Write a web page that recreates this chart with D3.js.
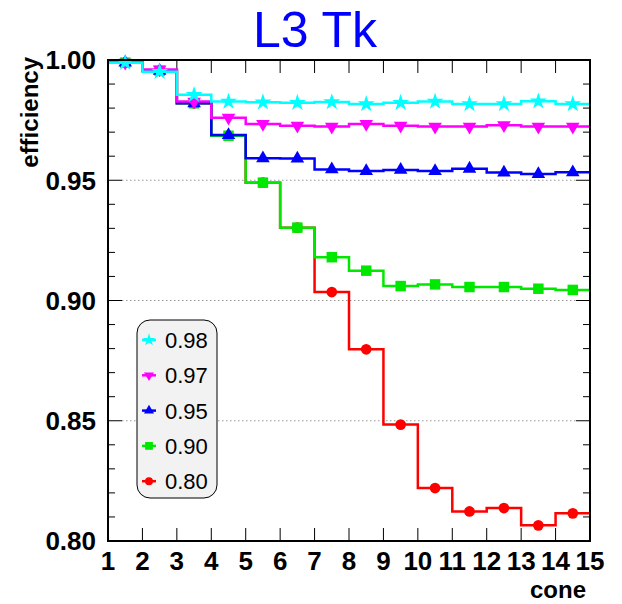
<!DOCTYPE html>
<html>
<head>
<meta charset="utf-8">
<script src="https://cdn.jsdelivr.net/npm/d3@7"></script>
<style>
  body { margin: 0; background: #fff; }
  svg { font-family: "Liberation Sans", Arial, Helvetica, sans-serif; }
  .tick-label { font-weight: bold; font-size: 26px; fill: #000; }
  .grid { stroke: #999; stroke-width: 1; stroke-dasharray: 1.5,2.5; }
  .frame { fill: none; stroke: #000; stroke-width: 2; }
  .step { fill: none; stroke-width: 2.5; }
</style>
</head>
<body>
<script>

// bin low edges (cone), bins are one unit wide, markers at centres
var binEdges = [1, 2, 3, 4, 5, 6, 7, 8, 9, 10, 11, 12, 13, 14];

var eff098 = [0.9989, 0.9951, 0.9855, 0.9827, 0.9824, 0.9822, 0.9825, 0.9817, 0.9822, 0.9827, 0.9817, 0.9817, 0.9828, 0.9817];
var eff097 = [0.9989, 0.9961, 0.9827, 0.9760, 0.9734, 0.9727, 0.9723, 0.9734, 0.9727, 0.9723, 0.9723, 0.9729, 0.9723, 0.9723];
var eff095 = [0.9989, 0.9955, 0.9820, 0.9688, 0.9591, 0.9590, 0.9545, 0.9538, 0.9543, 0.9538, 0.9548, 0.9532, 0.9526, 0.9533];
var eff090 = [0.9989, 0.9955, 0.9820, 0.9685, 0.9490, 0.9303, 0.9180, 0.9124, 0.9060, 0.9067, 0.9056, 0.9056, 0.9049, 0.9044];
var eff080 = [0.9989, 0.9955, 0.9820, 0.9685, 0.9490, 0.9303, 0.9035, 0.8797, 0.8484, 0.8220, 0.8123, 0.8137, 0.8065, 0.8115];

var seriesNames = ["0.98", "0.97", "0.95", "0.90", "0.80"];
var xTicks = [1, 2, 3, 4, 5, 6, 7, 8, 9, 10, 11, 12, 13, 14, 15];
var yTicks = [0.80, 0.85, 0.90, 0.95, 1.00];
var gridValues = [0.85, 0.90, 0.95];

(function() {

    var series = [
        {name: seriesNames[0], values: eff098, color: "#00ffff", symbol: d3.symbolStar, size: 90, rot: 0},
        {name: seriesNames[1], values: eff097, color: "#ff00ff", symbol: d3.symbolTriangle, size: 80, rot: 180},
        {name: seriesNames[2], values: eff095, color: "#0000ff", symbol: d3.symbolTriangle, size: 80, rot: 0},
        {name: seriesNames[3], values: eff090, color: "#00e800", symbol: d3.symbolSquare, size: 110, rot: 0},
        {name: seriesNames[4], values: eff080, color: "#ff0000", symbol: d3.symbolCircle, size: 90, rot: 0}
    ];

    var W = 622, H = 604;
    var pL = 108, pR = 590, pT = 60, pB = 541;

    var svg = d3.select("body").append("svg")
        .attr("width", W)
        .attr("height", H);

    var x = d3.scaleLinear().domain([1, 15]).range([pL, pR]);
    var y = d3.scaleLinear().domain([0.80, 1.00]).range([pB, pT]);

    // title
    svg.append("text")
        .attr("x", 315)
        .attr("y", 47)
        .attr("text-anchor", "middle")
        .style("font-size", "50px")
        .style("fill", "#0000ff")
        .text("L3 Tk");

    // grid
    svg.append("g").selectAll("line")
        .data(gridValues)
        .enter().append("line")
        .attr("class", "grid")
        .attr("x1", pL + 14).attr("x2", pR - 14)
        .attr("y1", function(d) { return y(d); })
        .attr("y2", function(d) { return y(d); });

    // ticks inside, on all four sides
    var yMinor = d3.range(0, 21).map(function(i) { return 0.80 + i * 0.01; });

    function drawYTicks(x0, dir) {
        svg.append("g").selectAll("line")
            .data(yMinor)
            .enter().append("line")
            .attr("x1", x0)
            .attr("x2", function(d, i) { return x0 + dir * (i % 5 === 0 ? 14 : 7); })
            .attr("y1", function(d) { return y(d); })
            .attr("y2", function(d) { return y(d); })
            .attr("stroke", "#000")
            .attr("stroke-width", 1);
    }
    drawYTicks(pL, 1);
    drawYTicks(pR, -1);

    function drawXTicks(y0, dir) {
        svg.append("g").selectAll("line")
            .data(xTicks)
            .enter().append("line")
            .attr("x1", function(d) { return x(d); })
            .attr("x2", function(d) { return x(d); })
            .attr("y1", y0)
            .attr("y2", y0 + dir * 13)
            .attr("stroke", "#000")
            .attr("stroke-width", 1);
    }
    drawXTicks(pB, -1);
    drawXTicks(pT, 1);

    // tick labels
    svg.append("g").selectAll("text")
        .data(yTicks)
        .enter().append("text")
        .attr("class", "tick-label")
        .attr("x", 96)
        .attr("y", function(d) { return y(d); })
        .attr("dy", "0.36em")
        .attr("text-anchor", "end")
        .text(d3.format(".2f"));

    svg.append("g").selectAll("text")
        .data(xTicks)
        .enter().append("text")
        .attr("class", "tick-label")
        .attr("x", function(d) { return x(d); })
        .attr("y", 570)
        .attr("text-anchor", "middle")
        .text(function(d) { return d; });

    // axis titles
    svg.append("text")
        .attr("transform", "translate(38,57) rotate(-90)")
        .attr("text-anchor", "end")
        .style("font-weight", "bold")
        .style("font-size", "24px")
        .text("efficiency");

    svg.append("text")
        .attr("x", 586)
        .attr("y", 598)
        .attr("text-anchor", "end")
        .style("font-weight", "bold")
        .style("font-size", "24px")
        .text("cone");

    // step histograms
    var line = d3.line()
        .x(function(d) { return x(d[0]); })
        .y(function(d) { return y(d[1]); })
        .curve(d3.curveStepAfter);

    var plot = svg.append("g");

    // lowest series first so the 0.98 curve ends up on top
    series.slice().reverse().forEach(function(s) {
        var pts = binEdges.map(function(e, i) { return [e, s.values[i]]; });
        pts.push([binEdges[binEdges.length - 1] + 1, s.values[s.values.length - 1]]);

        plot.append("path")
            .datum(pts)
            .attr("class", "step")
            .attr("stroke", s.color)
            .attr("d", line);

        var sym = d3.symbol().type(s.symbol).size(s.size);
        plot.append("g").selectAll("path")
            .data(s.values)
            .enter().append("path")
            .attr("transform", function(d, i) {
                return "translate(" + x(binEdges[i] + 0.5) + "," + y(d) + ") rotate(" + s.rot + ")";
            })
            .attr("d", sym)
            .attr("fill", s.color);
    });

    // frame
    svg.append("rect")
        .attr("class", "frame")
        .attr("x", pL).attr("y", pT)
        .attr("width", pR - pL).attr("height", pB - pT);

    // legend
    var legend = svg.append("g").attr("transform", "translate(137,320)");

    legend.append("rect")
        .attr("width", 80)
        .attr("height", 178)
        .attr("rx", 13)
        .attr("fill", "#f2f2f2")
        .attr("stroke", "#000")
        .attr("stroke-width", 1);

    var entry = legend.selectAll("g.entry")
        .data(series)
        .enter().append("g")
        .attr("class", "entry")
        .attr("transform", function(d, i) { return "translate(0," + (20 + i * 35.3) + ")"; });

    entry.append("line")
        .attr("x1", 5).attr("x2", 19)
        .attr("stroke", function(d) { return d.color; })
        .attr("stroke-width", 2.5);

    entry.append("path")
        .attr("transform", function(d) { return "translate(12,0) rotate(" + d.rot + ")"; })
        .attr("d", function(d) { return d3.symbol().type(d.symbol).size(d.size * 0.55)(); })
        .attr("fill", function(d) { return d.color; });

    entry.append("text")
        .attr("x", 28)
        .attr("dy", "0.36em")
        .style("font-size", "22px")
        .text(function(d) { return d.name; });

})();

</script>
</body>
</html>
